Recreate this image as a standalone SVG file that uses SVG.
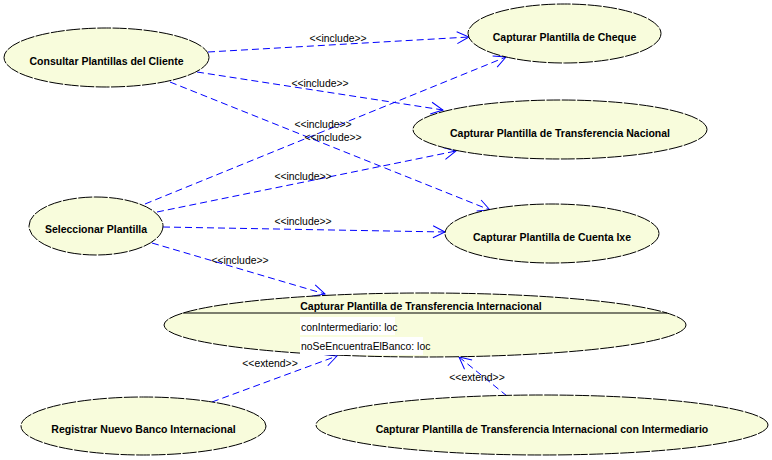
<svg xmlns="http://www.w3.org/2000/svg" width="772" height="460" viewBox="0 0 772 460">
<style>
.uc ellipse{fill:#F8FCDC;stroke:#000;stroke-width:1;stroke-dasharray:14 1.5}
.lbl{font-family:"Liberation Sans",Arial,sans-serif;font-size:10.5px;font-weight:bold;fill:#000;text-anchor:middle}
.attr{font-family:"Liberation Sans",Arial,sans-serif;font-size:10.4px;fill:#000}
.conn line{stroke:#0000FF;stroke-width:1;stroke-dasharray:7 4;fill:none}
.st{font-family:"Liberation Sans",Arial,sans-serif;font-size:10.4px;fill:#000;text-anchor:middle}
</style>
<defs>
<marker id="arr" markerUnits="userSpaceOnUse" markerWidth="16" markerHeight="16" viewBox="-14 -8 16 16" refX="0" refY="0" orient="auto">
<path d="M-12,-6 L0,0 L-12,6" fill="none" stroke="#0000FF" stroke-width="1"/>
</marker>
</defs>
<rect width="772" height="460" fill="#fff"/>
<g id="connectors" class="conn">
<line x1="208" y1="52" x2="469" y2="37" marker-end="url(#arr)"/>
<line x1="197" y1="72" x2="443" y2="110" marker-end="url(#arr)"/>
<line x1="170" y1="82" x2="490" y2="210" marker-end="url(#arr)"/>
<line x1="145" y1="204" x2="506" y2="57" marker-end="url(#arr)"/>
<line x1="157" y1="212" x2="456" y2="151" marker-end="url(#arr)"/>
<line x1="163" y1="227" x2="445" y2="232" marker-end="url(#arr)"/>
<line x1="152" y1="243" x2="325" y2="294" marker-end="url(#arr)"/>
<line x1="212" y1="402" x2="337" y2="356" marker-end="url(#arr)"/>
<line x1="507" y1="396" x2="459" y2="357" marker-end="url(#arr)"/>
<text class="st" x="338" y="42">&lt;&lt;include&gt;&gt;</text>
<text class="st" x="320" y="87">&lt;&lt;include&gt;&gt;</text>
<text class="st" x="323" y="128">&lt;&lt;include&gt;&gt;</text>
<text class="st" x="333" y="141">&lt;&lt;include&gt;&gt;</text>
<text class="st" x="303" y="180">&lt;&lt;include&gt;&gt;</text>
<text class="st" x="303" y="225">&lt;&lt;include&gt;&gt;</text>
<text class="st" x="240" y="264">&lt;&lt;include&gt;&gt;</text>
<text class="st" x="270" y="367">&lt;&lt;extend&gt;&gt;</text>
<text class="st" x="477" y="381">&lt;&lt;extend&gt;&gt;</text>
</g>
<g id="consultar" class="uc">
<ellipse cx="106.5" cy="57.5" rx="102.5" ry="29.5"/>
<text class="lbl" x="106.5" y="65">Consultar Plantillas del Cliente</text>
</g>
<g id="cheque" class="uc">
<ellipse cx="564.5" cy="33.5" rx="96.5" ry="29.5"/>
<text class="lbl" x="564.5" y="41">Capturar Plantilla de Cheque</text>
</g>
<g id="nacional" class="uc">
<ellipse cx="560" cy="129.5" rx="147" ry="29.5"/>
<text class="lbl" x="560" y="137">Capturar Plantilla de Transferencia Nacional</text>
</g>
<g id="seleccionar" class="uc">
<ellipse cx="96" cy="226" rx="67" ry="29"/>
<text class="lbl" x="96" y="233">Seleccionar Plantilla</text>
</g>
<g id="cuentaixe" class="uc">
<ellipse cx="552" cy="233.5" rx="107" ry="29.5"/>
<text class="lbl" x="552" y="241">Capturar Plantilla de Cuenta Ixe</text>
</g>
<g id="internacional" class="uc">
<ellipse cx="425" cy="325" rx="261" ry="32"/>
<text class="lbl" x="421" y="310">Capturar Plantilla de Transferencia Internacional</text>
<line x1="183" y1="313" x2="667" y2="313" stroke="#000" stroke-width="1"/>
<rect x="300" y="317" width="95" height="18" fill="#fff"/>
<rect x="300" y="337" width="123" height="18" fill="#fff"/>
<text class="attr" x="301" y="331">conIntermediario: loc</text>
<text class="attr" x="301" y="350">noSeEncuentraElBanco: loc</text>
</g>
<g id="registrar" class="uc">
<ellipse cx="143.5" cy="426" rx="122.5" ry="29"/>
<text class="lbl" x="143.5" y="433">Registrar Nuevo Banco Internacional</text>
</g>
<g id="coninter" class="uc">
<ellipse cx="542" cy="425" rx="226" ry="30"/>
<text class="lbl" x="542" y="433">Capturar Plantilla de Transferencia Internacional con Intermediario</text>
</g>
</svg>
